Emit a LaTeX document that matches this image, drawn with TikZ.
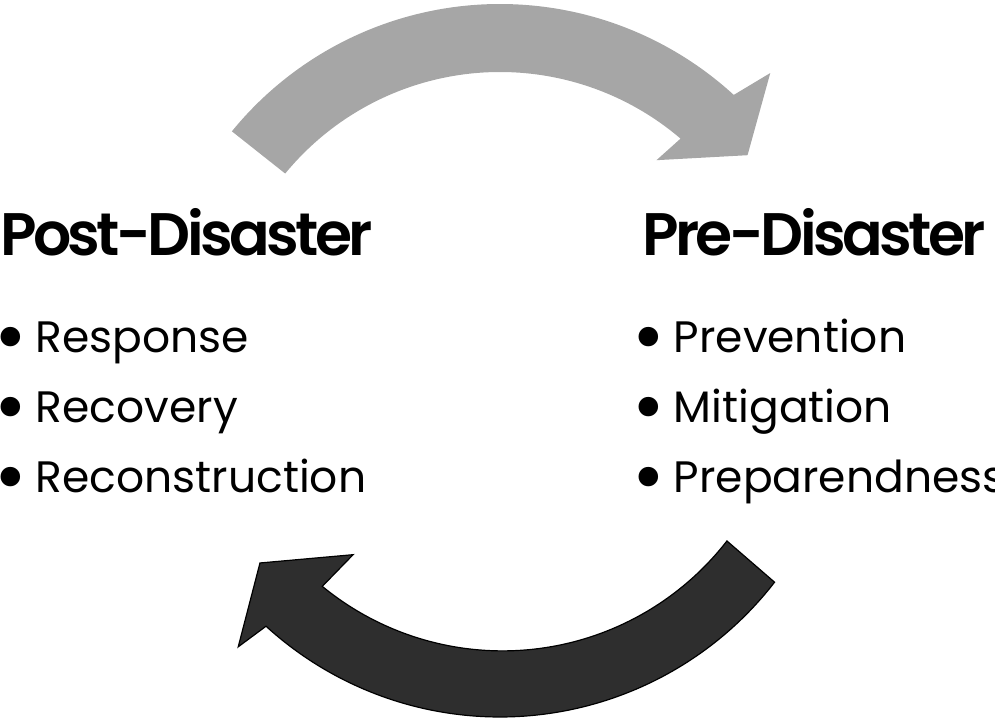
\documentclass[tikz,border=0pt]{standalone}
\usepackage{fontspec}
\setmainfont{Poppins}
\newfontfamily\headfont{Poppins SemiBold}[LetterSpace=-6]
\usepackage{xcolor}
\usetikzlibrary{positioning,calc}

\definecolor{lightgrey}{HTML}{A6A6A6}
\definecolor{darkgrey}{HTML}{2E2E2E}
\newcommand{\bigdot}{\hspace*{-6pt}\raisebox{-11pt}{\scalebox{1.8}{•}}\hspace{9pt}}

\begin{document}
\begin{tikzpicture}[x=1pt,y=1pt,
        heading/.style={font=\fontsize{60}{60}\headfont,anchor=base west,inner sep=0pt},
        item/.style={font=\fontsize{44}{44}\selectfont,anchor=base west,inner sep=0pt,
            text height=32pt,text depth=12pt},
        uparrow/.style={fill=lightgrey},
        downarrow/.style={fill=darkgrey,draw=black,line width=1.2pt,line join=miter}]
        \useasboundingbox (0,0) rectangle (995,720);
        \coordinate (topc) at (500,370);
        \coordinate (botc) at (500,350);
        % top arrow, towards pre-disaster
        \fill[uparrow] ($(topc)+(140.8:346)$) arc[start angle=140.8,end angle=47.5,radius=346]
            -- ($(topc)+(45.7:387)$) -- ($(topc)+(38.2:315)$) -- ($(topc)+(50.5:246)$)
            -- ($(topc)+(49.5:278)$) arc[start angle=49.5,end angle=140.6,radius=278] -- cycle;
        % bottom arrow, towards post-disaster
        \filldraw[downarrow] ($(botc)+(-37.7:347)$) arc[start angle=-37.7,end angle=-132.4,radius=347]
            -- ($(botc)+(226.6:381)$) -- ($(botc)+(218.8:308)$) -- ($(botc)+(231.5:236)$)
            -- ($(botc)+(230.6:280)$) arc[start angle=230.6,end angle=322.2,radius=284] -- cycle;
        % left column
        \node (post) [heading] at (0,464) {Post-Disaster};
        \node (resp) [item] at (0,367) {\bigdot Response};
        \node (recov) [item] at ([yshift=-70pt]resp.base west) {\bigdot Recovery};
        \node (recon) [item] at ([yshift=-70pt]recov.base west) {\bigdot Reconstruction};
        % right column
        \node (pre) [heading] at (642,464) {Pre-Disaster};
        \node (prev) [item] at (638,367) {\bigdot Prevention};
        \node (mitig) [item] at ([yshift=-70pt]prev.base west) {\bigdot Mitigation};
        \node (prep) [item] at ([yshift=-70pt]mitig.base west) {\bigdot Preparendness};
    \end{tikzpicture}
\end{document}
